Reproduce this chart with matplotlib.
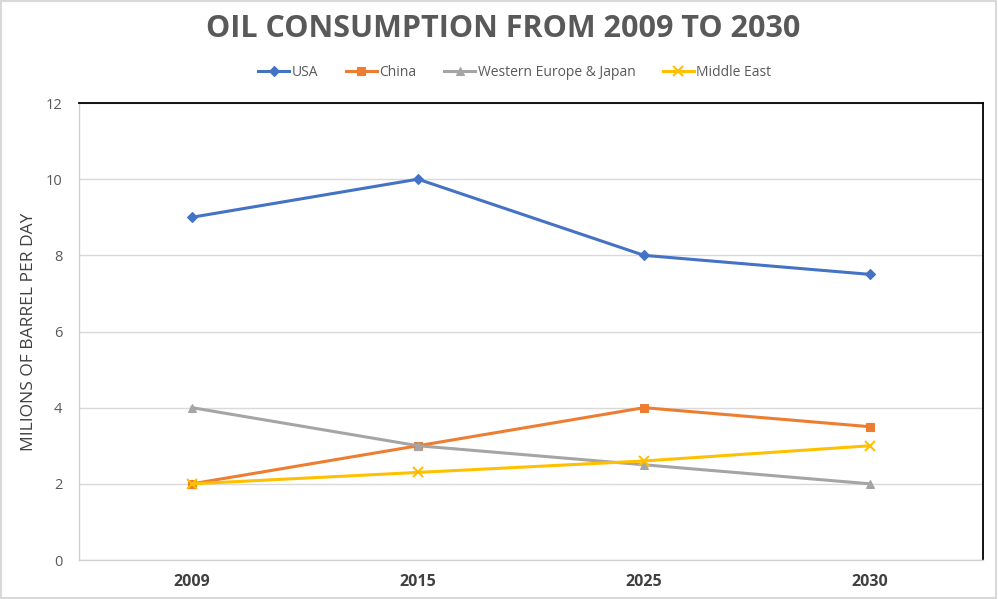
import matplotlib
matplotlib.use("Agg")
import matplotlib.pyplot as plt
from matplotlib.patches import Rectangle

years = ["2009", "2015", "2025", "2030"]
usa = [9, 10, 8, 7.5]
china = [2, 3, 4, 3.5]
we_japan = [4, 3, 2.5, 2]
middle_east = [2, 2.3, 2.6, 3]

series = [
    ("USA", usa, "#4472C4", "D", 5),
    ("China", china, "#ED7D31", "s", 6),
    ("Western Europe & Japan", we_japan, "#A5A5A5", "^", 6),
    ("Middle East", middle_east, "#FFC000", "x", 7),
]

plt.rcParams['font.family'] = ['Open Sans', 'DejaVu Sans']

fig = plt.figure(figsize=(9.98, 5.99), dpi=100)
ax = fig.add_axes([79/998, 1-560/599, (983-79)/998, (560-103)/599])

x = list(range(len(years)))
for name, vals, col, mk, ms in series:
    ax.plot(x, vals, color=col, lw=2.2, marker=mk, markersize=ms,
            markeredgewidth=1.5 if mk == "x" else 0.8, label=name)

ax.set_xlim(-0.5, len(years) - 0.5)
ax.set_ylim(0, 12)
ax.set_yticks(range(0, 13, 2))
ax.set_xticks(x)
ax.set_xticklabels(years, fontweight='bold', color='#404040', fontsize=11.5)
for lbl in ax.get_yticklabels():
    lbl.set_color('#595959')
    lbl.set_fontsize(10.5)
ax.tick_params(axis='both', length=0)
ax.tick_params(axis='y', pad=12)
ax.tick_params(axis='x', pad=10)
ax.grid(axis='y', color='#D9D9D9', lw=1)
ax.set_axisbelow(True)
for s in ['top', 'right']:
    ax.spines[s].set_color('black')
    ax.spines[s].set_linewidth(1.3)
for s in ['left', 'bottom']:
    ax.spines[s].set_color('#D0D0D0')
    ax.spines[s].set_linewidth(1)

ax.set_ylabel("MILIONS OF BARREL PER DAY", fontsize=12.5, color='#404040', labelpad=6)

fig.text(0.504, 1-29/599, "OIL CONSUMPTION FROM 2009 TO 2030", ha='center', va='center',
         fontsize=22, fontweight='bold', color='#595959')

leg = fig.legend(loc='center', bbox_to_anchor=(0.516, 1-72/599), ncol=4, frameon=False,
                 fontsize=10, handlelength=2.2, columnspacing=2.0, handletextpad=0.2)
for t in leg.get_texts():
    t.set_color('#595959')

fig.patches.append(Rectangle((0.001, 0.002), 0.997, 0.996, transform=fig.transFigure,
                             fill=False, edgecolor='#D9D9D9', lw=1.5))

fig.savefig("out.png", dpi=100)
